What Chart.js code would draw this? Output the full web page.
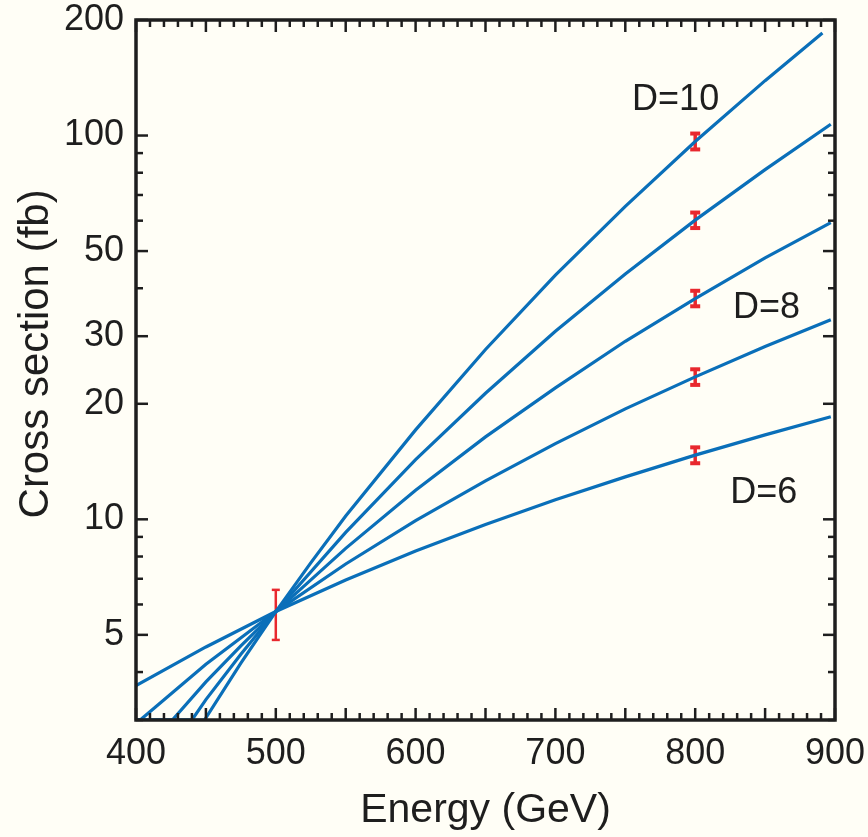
<!DOCTYPE html>
<html>
<head>
<meta charset="utf-8">
<script src="https://cdn.jsdelivr.net/npm/chart.js@4.4.1/dist/chart.umd.min.js"></script>
<style>
  html, body { margin: 0; padding: 0; background: #fffef6; }
  #wrap { width: 868px; height: 837px; }
</style>
</head>
<body>
<div id="wrap"><canvas id="xsecChart" width="868" height="837"></canvas></div>
<script>
'use strict';

// curves, one per number of dimensions
const dimLabels = ['D=6', 'D=7', 'D=8', 'D=9', 'D=10'];
const energyD6 = [400, 450, 500, 550, 600, 650, 700, 750, 800, 850, 897];
const xsecD6 = [3.69, 4.65, 5.75, 6.95, 8.27, 9.7, 11.25, 12.9, 14.7, 16.6, 18.5];
const energyD7 = [400, 403, 450, 500, 550, 600, 650, 700, 750, 800, 850, 897];
const xsecD7 = [3.0, 3.0, 4.19, 5.75, 7.65, 9.92, 12.6, 15.75, 19.4, 23.5, 28.2, 33.1];
const energyD8 = [400, 426, 450, 475, 500, 550, 600, 650, 700, 750, 800, 850, 897];
const xsecD8 = [3.0, 3.0, 3.77, 4.68, 5.75, 8.4, 11.9, 16.4, 22.0, 29.1, 37.6, 48.0, 59.3];
const energyD9 = [400, 440, 450, 475, 500, 550, 600, 650, 700, 750, 800, 850, 897];
const xsecD9 = [3.0, 3.0, 3.39, 4.45, 5.75, 9.25, 14.3, 21.3, 30.9, 43.6, 60.2, 81.5, 107];
const energyD10 = [400, 449, 475, 500, 525, 550, 600, 650, 700, 750, 800, 850, 891];
const xsecD10 = [3.0, 3.0, 4.22, 5.75, 7.7, 10.2, 17.1, 27.7, 43.3, 65.4, 96.5, 139, 185];

// error bars
const errEnergy = [500, 800, 800, 800, 800, 800];
const errLow = [4.85, 14.0, 22.4, 35.9, 57.4, 92.0];
const errHigh = [6.55, 15.4, 24.6, 39.4, 63.0, 101.2];

// axes
const xTickLabels = [400, 500, 600, 700, 800, 900];
const yTickLabels = [5, 10, 20, 30, 50, 100, 200];
const yMinorTicks = [3, 4, 6, 7, 8, 9, 40, 60, 70, 80, 90];

// curve annotations: text, energy, cross section
const noteText = ['D=10', 'D=8', 'D=6'];
const noteEnergy = [786, 851, 849];
const noteXsec = [124, 35.5, 11.7];

const BLUE = '#0a6fb9';
const RED = '#e8282e';
const INK = '#1e1e1e';
const FONT = '"Liberation Sans", Arial, Helvetica, sans-serif';

const curveX = [energyD6, energyD7, energyD8, energyD9, energyD10];
const curveY = [xsecD6, xsecD7, xsecD8, xsecD9, xsecD10];

const datasets = dimLabels.map((lbl, i) => ({
  label: lbl,
  data: curveX[i].map((e, j) => ({ x: e, y: curveY[i][j] })),
  borderColor: BLUE,
  borderWidth: 3.2,
  pointRadius: 0,
  tension: 0,
  fill: false,
}));

errEnergy.forEach((e, i) => {
  datasets.push({
    label: 'err' + i,
    data: [{ x: e, y: errLow[i] }, { x: e, y: errHigh[i] }],
    borderColor: RED,
    borderWidth: i === 0 ? 2.5 : 3.5,
    pointStyle: 'line',
    pointRadius: i === 0 ? 4 : 5,
    pointBorderWidth: i === 0 ? 2.5 : 4,
    pointBorderColor: RED,
    pointHoverRadius: 0,
    tension: 0,
  });
});

function seg(ctx, x1, y1, x2, y2) {
  ctx.beginPath();
  ctx.moveTo(x1, y1);
  ctx.lineTo(x2, y2);
  ctx.stroke();
}

const framePlugin = {
  id: 'frame',
  afterDraw(chart) {
    const { ctx, chartArea: a, scales: { x, y } } = chart;
    ctx.save();
    ctx.strokeStyle = INK;
    ctx.lineWidth = 2.5;
    ctx.lineCap = 'butt';
    // x ticks, inward on bottom and top
    for (let e = 400; e <= 900; e += 10) {
      const px = x.getPixelForValue(e);
      const len = e % 50 === 0 ? 12 : 7;
      seg(ctx, px, a.bottom, px, a.bottom - len);
      seg(ctx, px, a.top, px, a.top + len);
    }
    // y ticks, inward on left and right
    yTickLabels.concat(yMinorTicks).forEach((v) => {
      const py = y.getPixelForValue(v);
      const len = yTickLabels.includes(v) ? 12 : 7;
      seg(ctx, a.left, py, a.left + len, py);
      seg(ctx, a.right, py, a.right - len, py);
    });
    ctx.lineWidth = 3.5;
    ctx.strokeRect(a.left, a.top, a.right - a.left, a.bottom - a.top);

    ctx.fillStyle = INK;
    ctx.textAlign = 'center';
    ctx.textBaseline = 'middle';

    // y axis title, drawn here so it can sit a bit above the axis middle
    ctx.save();
    ctx.font = '42px ' + FONT;
    ctx.translate(36, a.top + (a.bottom - a.top) * 0.477);
    ctx.rotate(-Math.PI / 2);
    ctx.fillText('Cross section (fb)', 0, 0);
    ctx.restore();

    // curve labels
    ctx.font = '36px ' + FONT;
    noteText.forEach((t, i) => {
      ctx.fillText(t, x.getPixelForValue(noteEnergy[i]), y.getPixelForValue(noteXsec[i]));
    });
    ctx.restore();
  },
};

const ctx = document.getElementById('xsecChart');

const xsecChart = new Chart(ctx, {
  type: 'line',
  data: { datasets: datasets },
  options: {
    responsive: false,
    animation: false,
    events: [],
    layout: { padding: { left: 0, right: 33, top: 20, bottom: 0 } },
    plugins: {
      legend: { display: false },
      tooltip: { enabled: false },
    },
    scales: {
      x: {
        type: 'linear',
        min: 400,
        max: 900,
        grid: { display: false, drawTicks: false },
        border: { display: false },
        afterBuildTicks: (scale) => {
          scale.ticks = xTickLabels.map((v) => ({ value: v }));
        },
        afterFit: (scale) => {
          scale.height = 117;
          scale.paddingLeft = 0;
          scale.paddingRight = 0;
        },
        ticks: {
          color: INK,
          padding: 12,
          maxRotation: 0,
          font: { family: FONT, size: 36 },
          callback: (v) => String(v),
        },
        title: {
          display: true,
          text: 'Energy (GeV)',
          color: INK,
          font: { family: FONT, size: 41 },
          padding: { top: 0, bottom: 2 },
        },
      },
      y: {
        type: 'logarithmic',
        min: 3,
        max: 200,
        grid: { display: false, drawTicks: false },
        border: { display: false },
        afterBuildTicks: (scale) => {
          scale.ticks = yTickLabels.map((v) => ({ value: v }));
        },
        afterFit: (scale) => {
          scale.width = 136;
          scale.paddingTop = 0;
          scale.paddingBottom = 0;
        },
        ticks: {
          color: INK,
          padding: 12,
          font: { family: FONT, size: 36 },
          callback: (v) => String(v),
        },
      },
    },
  },
  plugins: [framePlugin],
});
</script>
</body>
</html>
